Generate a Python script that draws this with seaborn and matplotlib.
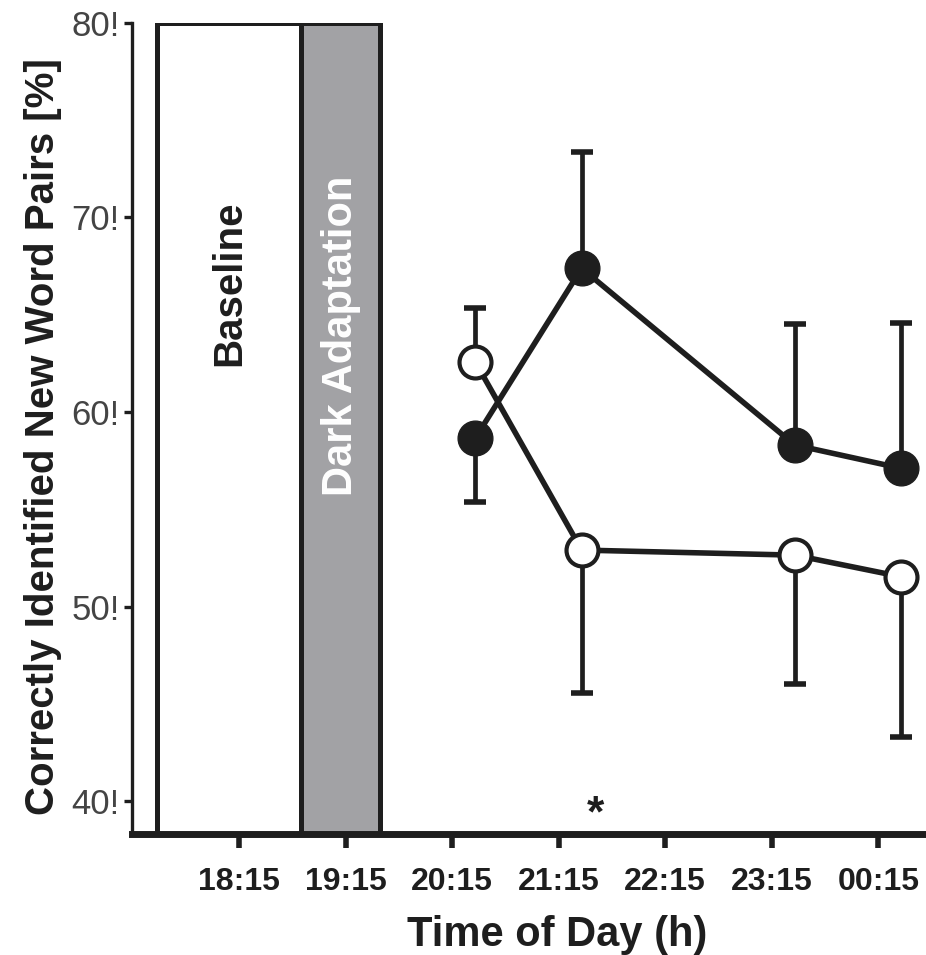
import matplotlib
matplotlib.use("Agg")
import matplotlib.pyplot as plt
import seaborn as sns
import numpy as np
import pandas as pd

# ---- data ----
tick_pos = [18.25, 19.25, 20.25, 21.25, 22.25, 23.25, 24.25]
tick_labels = ["18:15", "19:15", "20:15", "21:15", "22:15", "23:15", "00:15"]
y_ticks = [40, 50, 60, 70, 80]
y_tick_labels = ["40!", "50!", "60!", "70!", "80!"]

times = [20.466, 21.466, 23.466, 24.466]
filled_mean = [58.64, 67.38, 58.30, 57.10]
filled_err_lo = [3.25, 0.0, 0.0, 0.0]
filled_err_hi = [0.0, 5.98, 6.22, 7.45]
open_mean = [62.58, 52.90, 52.64, 51.53]
open_err_lo = [0.0, 7.36, 6.62, 8.22]
open_err_hi = [2.74, 0.0, 0.0, 0.0]

baseline_span = (17.483, 18.832)
dark_span = (18.832, 19.574)
sig_time = 21.6

# ---- style ----
sns.set_theme(style="ticks")
plt.rcParams['font.family'] = ['Liberation Sans', 'DejaVu Sans']

fig = plt.figure(figsize=(9.26, 9.55), dpi=100)
ax = fig.add_axes([132/926, 1 - 834/955, (923-132)/926, (834-22.7)/955])

ymin, ymax = 38.31, 80
ax.set_xlim(17.245, 24.67)
ax.set_ylim(ymin, ymax)

# condition boxes
ax.axvspan(*baseline_span, facecolor="white", edgecolor="#1e1e1e", lw=3.6, zorder=1)
ax.axvspan(*dark_span, facecolor="#a2a2a5", edgecolor="#1e1e1e", lw=3.6, zorder=1)
ax.text(np.mean(baseline_span), 66.6, "Baseline", rotation=90, ha="center", va="center",
        fontsize=29, fontweight="bold", color="#1e1e1e", zorder=2)
ax.text(np.mean(dark_span), 63.9, "Dark Adaptation", rotation=90, ha="center", va="center",
        fontsize=30, fontweight="bold", color="white", zorder=2)

df = pd.DataFrame({
    "time": times * 2,
    "value": filled_mean + open_mean,
    "group": ["filled"] * 4 + ["open"] * 4,
})

# error bars
ax.errorbar(times, open_mean, yerr=[open_err_lo, open_err_hi], fmt="none",
            ecolor="#1e1e1e", elinewidth=3.4, capsize=8, capthick=4, zorder=3)
ax.errorbar(times, filled_mean, yerr=[filled_err_lo, filled_err_hi], fmt="none",
            ecolor="#1e1e1e", elinewidth=3.4, capsize=8, capthick=4, zorder=3)

sns.lineplot(data=df[df.group == "open"], x="time", y="value", ax=ax, color="#1e1e1e",
             lw=4, marker="o", markersize=23, markerfacecolor="white",
             markeredgecolor="#1e1e1e", markeredgewidth=3.0, zorder=4, legend=False)
sns.lineplot(data=df[df.group == "filled"], x="time", y="value", ax=ax, color="#1e1e1e",
             lw=4, marker="o", markersize=25, markerfacecolor="#1e1e1e",
             markeredgecolor="#1e1e1e", markeredgewidth=1.0, zorder=5, legend=False)

ax.text(sig_time, 39.3, "*", ha="center", va="center", fontsize=32, fontweight="bold",
        color="#1e1e1e")

# axes
for s in ["top", "right"]:
    ax.spines[s].set_visible(False)
ax.spines["left"].set_linewidth(2.4)
ax.spines["left"].set_color("#1e1e1e")
ax.spines["bottom"].set_linewidth(5)
ax.spines["bottom"].set_color("#1e1e1e")
ax.spines["left"].set_bounds(ymin, ymax)

ax.set_xticks(tick_pos)
ax.set_xticklabels(tick_labels, fontsize=23, fontweight="bold", color="#1e1e1e")
ax.set_yticks(y_ticks)
ax.set_yticklabels(y_tick_labels, fontsize=25, color="#444444")
ax.tick_params(axis="x", length=10, width=4, color="#1e1e1e", pad=14)
ax.tick_params(axis="y", length=6, width=2.4, color="#1e1e1e", pad=3)

ax.set_xlabel("Time of Day (h)", fontsize=30, fontweight="bold", color="#1e1e1e")
ax.xaxis.set_label_coords((557 - 132) / (923 - 132), -(935 - 834) / (834 - 22.7))
ax.xaxis.label.set_va("center")
ax.set_ylabel("Correctly Identified New Word Pairs [%]", fontsize=29, fontweight="bold",
              color="#1e1e1e")
ax.yaxis.set_label_coords(-(132 - 43) / (923 - 132), (834 - 437) / (834 - 22.7))
ax.yaxis.label.set_va("center")

fig.savefig("out.png", dpi=100)
